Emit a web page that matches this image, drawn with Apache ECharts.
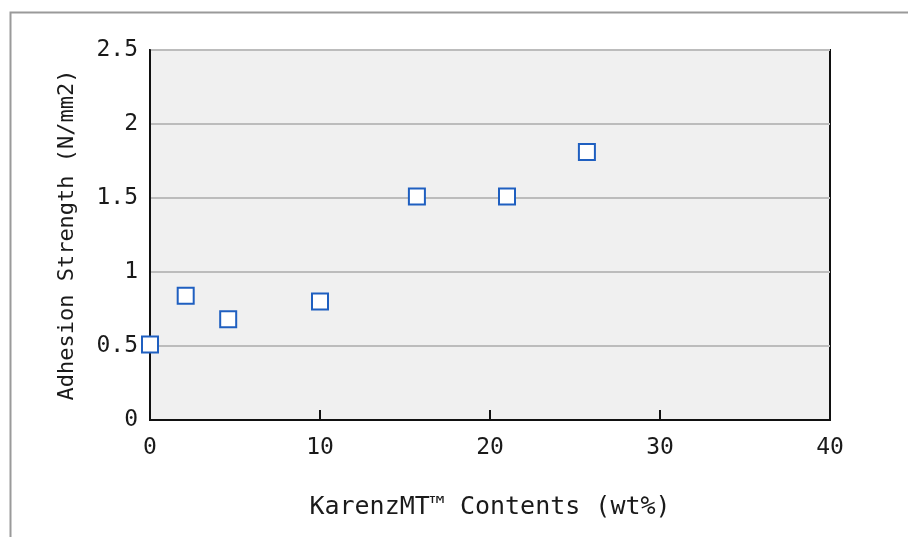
<!DOCTYPE html>
<html>
<head>
<meta charset="utf-8">
<script src="https://cdn.jsdelivr.net/npm/echarts@6/dist/echarts.min.js"></script>
<style>
html,body{margin:0;padding:0;background:#fff;}
#c{width:908px;height:537px;}
</style>
</head>
<body>
<div id="c"></div>
<script>
const xValues = [0, 2.1, 4.6, 10, 15.7, 21, 25.7];
const yValues = [0.51, 0.84, 0.68, 0.80, 1.51, 1.51, 1.81];
const xTitle = 'KarenzMT\u2122 Contents (wt%)';
const yTitle = 'Adhesion Strength (N/mm2)';

const points = xValues.map((x, i) => [x, yValues[i]]);
const font = '"DejaVu Sans Mono", monospace';

const chart = echarts.init(document.getElementById('c'), null, {renderer: 'canvas'});
chart.setOption({
  animation: false,
  backgroundColor: '#fff',
  graphic: [{
    type: 'rect', left: 8, top: 10, z: -10, silent: true,
    shape: {width: 1000, height: 1000},
    style: {fill: 'none', stroke: '#9a9a9a', lineWidth: 2}
  }],
  grid: {
    left: 150, top: 50, right: 78, bottom: 117,
    show: true, backgroundColor: '#f0f0f0', borderColor: '#111', borderWidth: 2
  },
  xAxis: {
    type: 'value', min: 0, max: 40, interval: 10,
    axisLine: {show: true, lineStyle: {color: '#111', width: 2}},
    axisTick: {show: true, inside: true, length: 10, lineStyle: {color: '#111', width: 2}},
    splitLine: {show: false},
    axisLabel: {color: '#1a1a1a', fontFamily: font, fontSize: 23, margin: 17},
    name: xTitle, nameLocation: 'middle', nameGap: 75,
    nameTextStyle: {color: '#1a1a1a', fontFamily: font, fontSize: 25}
  },
  yAxis: {
    type: 'value', min: 0, max: 2.5, interval: 0.5,
    axisLine: {show: true, lineStyle: {color: '#111', width: 2}},
    axisTick: {show: false},
    splitLine: {show: true, lineStyle: {color: '#bcbcbc', width: 2}},
    axisLabel: {color: '#1a1a1a', fontFamily: font, fontSize: 23, margin: 12},
    name: yTitle, nameLocation: 'middle', nameGap: 72,
    nameTextStyle: {color: '#1a1a1a', fontFamily: font, fontSize: 22}
  },
  series: [{
    type: 'scatter',
    data: points,
    symbol: 'rect',
    symbolSize: 16,
    itemStyle: {color: '#fff', borderColor: '#1f5fc0', borderWidth: 2, opacity: 1},
    clip: false
  }]
});
</script>
</body>
</html>
